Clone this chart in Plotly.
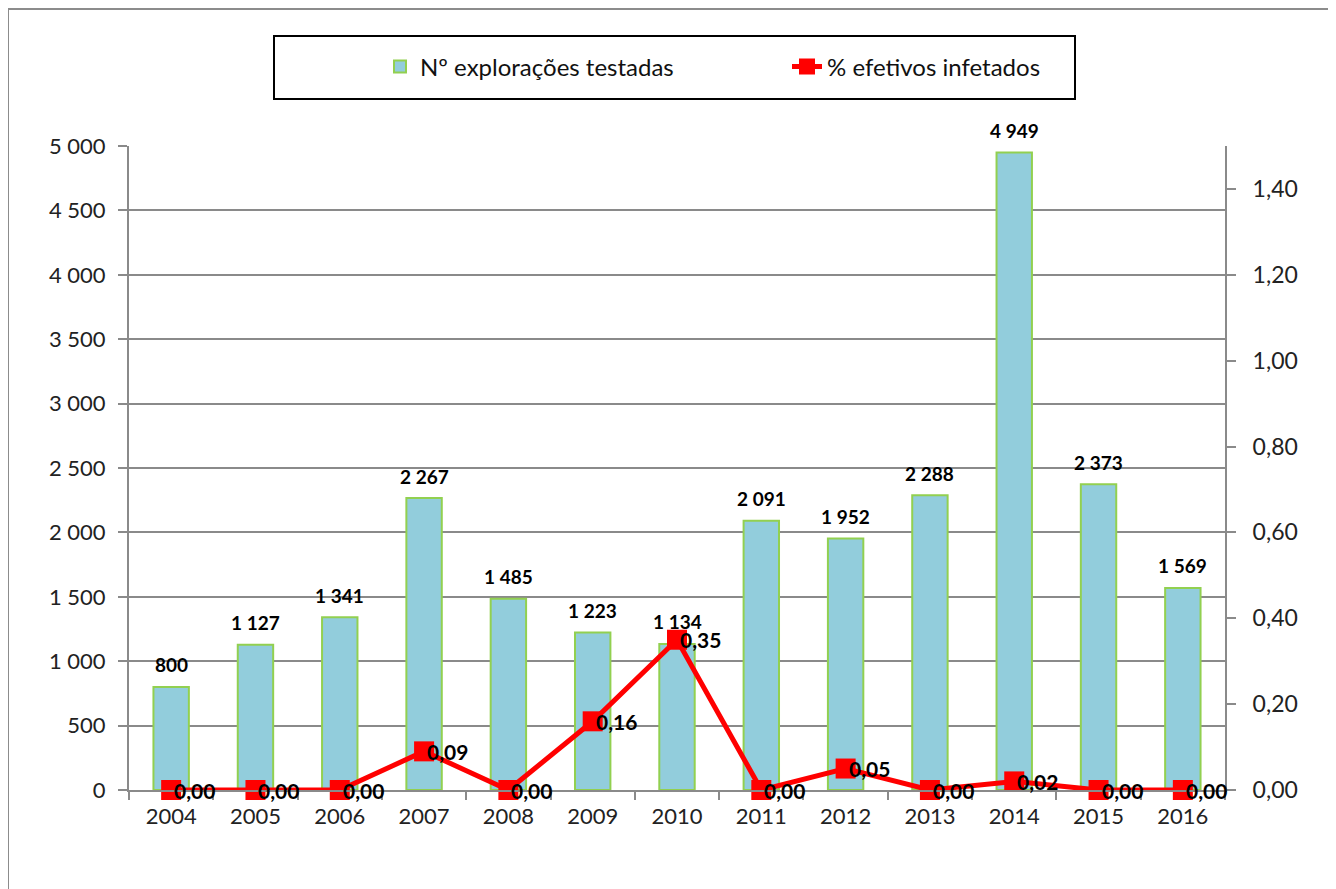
import plotly.graph_objects as go

years = ["2004", "2005", "2006", "2007", "2008", "2009", "2010",
         "2011", "2012", "2013", "2014", "2015", "2016"]
exploracoes = [800, 1127, 1341, 2267, 1485, 1223, 1134, 2091, 1952, 2288, 4949, 2373, 1569]
infetados = [0.00, 0.00, 0.00, 0.09, 0.00, 0.16, 0.35, 0.00, 0.05, 0.00, 0.02, 0.00, 0.00]

name_bar = "Nº explorações testadas"
name_line = "% efetivos infetados"

FONT = "Lato"
GRID = "#8a8a8a"

def fmt_int(v):
    return f"{v:,}".replace(",", " ")

def fmt_pct(v):
    return f"{v:.2f}".replace(".", ",")

fig = go.Figure()
fig.add_trace(go.Bar(
    x=years, y=exploracoes, name=name_bar,
    marker=dict(color="#92CDDC", line=dict(color="#92D050", width=2)),
    width=0.42,
))
fig.add_trace(go.Scatter(
    x=years, y=infetados, name=name_line, yaxis="y2",
    mode="lines+markers", cliponaxis=False,
    line=dict(color="#FF0000", width=5),
    marker=dict(symbol="square", size=20, color="#FF0000"),
))

annotations = []
for i, v in enumerate(exploracoes):
    annotations.append(dict(
        x=i, y=v, xref="x", yref="y", text=fmt_int(v), showarrow=False,
        yanchor="middle", yshift=22,
        font=dict(family=FONT, size=19, color="black", weight="bold"),
    ))
for i, v in enumerate(infetados):
    annotations.append(dict(
        x=i, y=v, xref="x", yref="y2", text=fmt_pct(v), showarrow=False,
        xanchor="left", yanchor="middle", xshift=1,
        font=dict(family=FONT, size=21, color="black", weight="bold"),
    ))

OFF = 8  # page body offset
L, R, T, B = 129 - OFF, 111, 146 - OFF, 99
W, H = 1336 - OFF, 889 - OFF
pw, ph = W - L - R, H - T - B

def px_x(p):
    return (p - OFF - L) / pw

def px_y(p):
    return (H - B - (p - OFF)) / ph

shapes = [
    # legend box
    dict(type="rect", xref="paper", yref="paper",
         x0=px_x(274), x1=px_x(1075), y0=px_y(99), y1=px_y(36),
         line=dict(color="black", width=2), fillcolor="rgba(0,0,0,0)", layer="above"),
    # outer chart border
    dict(type="rect", xref="paper", yref="paper",
         x0=px_x(8), x1=px_x(1345), y0=px_y(898), y1=px_y(9),
         line=dict(color="#8c8c8c", width=2), fillcolor="rgba(0,0,0,0)"),
]

fig.update_layout(
    width=W, height=H,
    margin=dict(l=L, r=R, t=T, b=B, pad=0, autoexpand=False),
    paper_bgcolor="white", plot_bgcolor="white",
    separators=", ",
    font=dict(family=FONT, size=21, color="#222222"),
    showlegend=True,
    legend=dict(
        orientation="h", x=px_x(380), xanchor="left",
        y=px_y(67), yanchor="middle",
        font=dict(family=FONT, size=24, color="#111111"),
        entrywidth=362, entrywidthmode="pixels",
        bgcolor="rgba(0,0,0,0)", borderwidth=0,
        traceorder="normal",
    ),
    bargap=0.58,
    xaxis=dict(
        type="category", range=[-0.5, len(years) - 0.5], autorange=False,
        showgrid=False,
        showline=True, linecolor=GRID, linewidth=2,
        ticks="outside", tickson="boundaries", ticklen=8, tickcolor=GRID, tickwidth=2,
        tickfont=dict(family=FONT, size=22, color="#222222"),
        tickangle=0, ticklabelstandoff=6,
    ),
    yaxis=dict(
        range=[0, 5000], dtick=500, tickformat=",d",
        showgrid=True, gridcolor=GRID, gridwidth=2,
        showline=True, linecolor=GRID, linewidth=2,
        ticks="outside", ticklen=9, tickcolor=GRID, tickwidth=2,
        tickfont=dict(family=FONT, size=22, color="#222222"),
        ticklabelstandoff=8, zeroline=False,
    ),
    yaxis2=dict(
        range=[0, 1.5], tick0=0, dtick=0.2, tickformat=".2f",
        overlaying="y", side="right", showgrid=False,
        showline=True, linecolor=GRID, linewidth=2,
        ticks="outside", ticklen=9, tickcolor=GRID, tickwidth=2,
        tickfont=dict(family=FONT, size=23, color="#222222"),
        ticklabelstandoff=12, zeroline=False,
    ),
    annotations=annotations,
    shapes=shapes,
)

fig.write_html("out.html")
